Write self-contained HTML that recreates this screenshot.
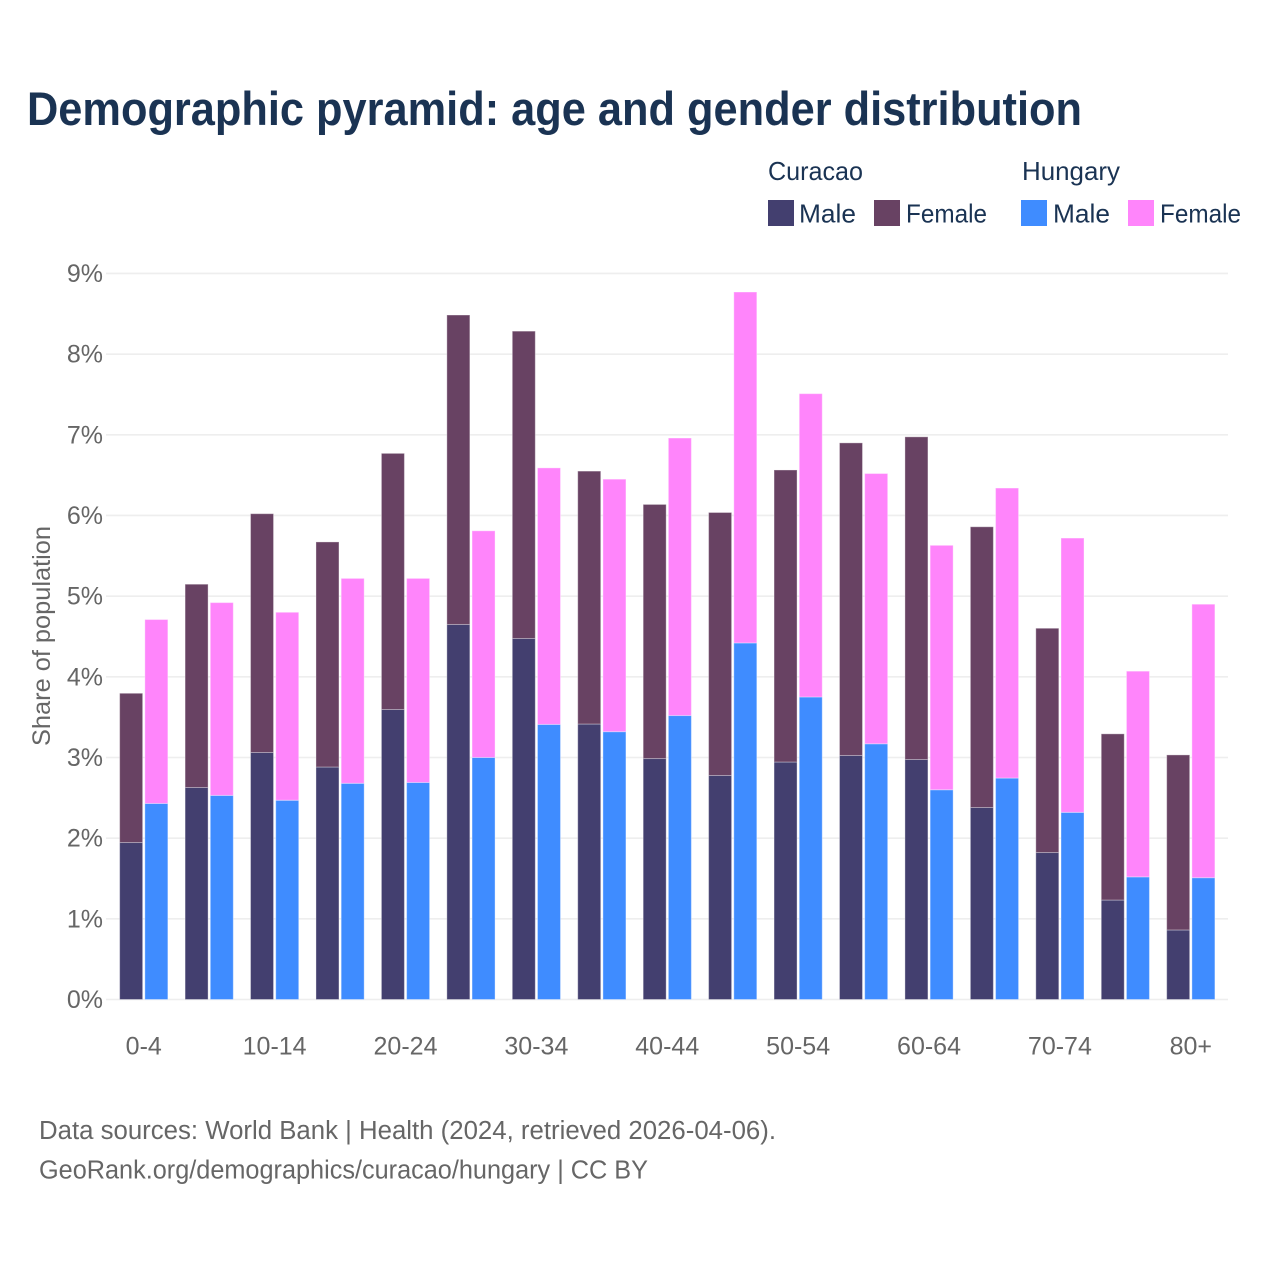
<!DOCTYPE html>
<html lang="en">
<head>
<meta charset="utf-8">
<title>Demographic pyramid: age and gender distribution</title>
<style>
html,body{margin:0;padding:0;background:#fff;}
svg{display:block;font-family:"Liberation Sans",sans-serif;}
</style>
</head>
<body>
<svg id="chart" width="1280" height="1280" viewBox="0 0 1280 1280" xmlns="http://www.w3.org/2000/svg">
  <rect x="0" y="0" width="1280" height="1280" fill="#ffffff"/>
  <text x="27" y="125" font-size="47" font-weight="700" fill="#1a3353" textLength="1055" lengthAdjust="spacingAndGlyphs">Demographic pyramid: age and gender distribution</text>

  <g font-size="26" fill="#1a3353">
    <text x="768" y="180" textLength="95" lengthAdjust="spacingAndGlyphs">Curacao</text>
    <text x="1022" y="180" textLength="98" lengthAdjust="spacingAndGlyphs">Hungary</text>
    <g>
      <rect x="768" y="200" width="26" height="26" fill="#433f6f"/>
      <text x="799" y="222.5" textLength="57" lengthAdjust="spacingAndGlyphs">Male</text>
    </g>
    <g>
      <rect x="874" y="200" width="26" height="26" fill="#684263"/>
      <text x="906" y="222.5" textLength="81" lengthAdjust="spacingAndGlyphs">Female</text>
    </g>
    <g>
      <rect x="1021" y="200" width="26" height="26" fill="#3f8cff"/>
      <text x="1053" y="222.5" textLength="57" lengthAdjust="spacingAndGlyphs">Male</text>
    </g>
    <g>
      <rect x="1128" y="200" width="26" height="26" fill="#ff85fb"/>
      <text x="1160" y="222.5" textLength="81" lengthAdjust="spacingAndGlyphs">Female</text>
    </g>
  </g>

  <g id="grid"></g>
  <g id="ylabels"></g>
  <g id="bars"></g>
  <g id="xlabels"></g>

  <text transform="translate(50,636) rotate(-90)" text-anchor="middle" font-size="25" fill="#666666" textLength="220" lengthAdjust="spacingAndGlyphs">Share of population</text>

  <text x="39" y="1139" font-size="25.5" fill="#666666" textLength="737" lengthAdjust="spacingAndGlyphs">Data sources: World Bank | Health (2024, retrieved 2026-04-06).</text>
  <text x="39" y="1178.5" font-size="25.5" fill="#666666" textLength="609" lengthAdjust="spacingAndGlyphs">GeoRank.org/demographics/curacao/hungary | CC BY</text>
</svg>
<script>
const categories = ['0-4','5-9','10-14','15-19','20-24','25-29','30-34','35-39','40-44','45-49','50-54','55-59','60-64','65-69','70-74','75-79','80+'];
const shownCategories = ['0-4','10-14','20-24','30-34','40-44','50-54','60-64','70-74','80+'];
const yTicks = [0,1,2,3,4,5,6,7,8,9];
const curacaoMale = [1.946,2.628,3.062,2.882,3.595,4.649,4.475,3.415,2.987,2.777,2.944,3.025,2.975,2.38,1.822,1.233,0.862];
const curacaoFemale = [1.85,2.52,2.96,2.79,3.175,3.836,3.81,3.135,3.15,3.26,3.62,3.875,4.0,3.48,2.78,2.06,2.17];
const hungaryMale = [2.43,2.53,2.47,2.68,2.69,3.00,3.41,3.32,3.52,4.42,3.75,3.17,2.60,2.745,2.32,1.52,1.51];
const hungaryFemale = [2.28,2.39,2.33,2.54,2.53,2.81,3.18,3.13,3.44,4.35,3.76,3.35,3.03,3.595,3.40,2.55,3.39];

const SVG_NS = 'http://www.w3.org/2000/svg';
const Y_ZERO = 999.5, Y_PER_UNIT = 80.67;
const X_START = 111.03, X_STEP = 65.44, BAR_W = 23, BAR_GAP = 2.2;
const GRID_LEFT = 106, GRID_RIGHT = 1228;

function yScale(v) { return Y_ZERO - v * Y_PER_UNIT; }
function xCenter(i) { return X_START + X_STEP * (i + 0.5); }

const grid = document.getElementById('grid');
const ylabels = document.getElementById('ylabels');
const barsG = document.getElementById('bars');
const xlabels = document.getElementById('xlabels');

yTicks.forEach(function (t) {
  const line = document.createElementNS(SVG_NS, 'line');
  
  
  line.setAttribute('x1', GRID_LEFT);
  line.setAttribute('x2', GRID_RIGHT);
  line.setAttribute('y1', yScale(t));
  line.setAttribute('y2', yScale(t));
  line.setAttribute('stroke', '#eeeeee');
  line.setAttribute('stroke-width', '1.6');
  grid.appendChild(line);

  const label = document.createElementNS(SVG_NS, 'text');
  
  
  label.setAttribute('x', 103);
  label.setAttribute('y', yScale(t) + 8.5);
  label.setAttribute('text-anchor', 'end');
  label.setAttribute('font-size', '25');
  label.setAttribute('fill', '#666666');
  label.textContent = t + '%';
  ylabels.appendChild(label);
});

function drawBar(name, x, base, value, fill) {
  const rect = document.createElementNS(SVG_NS, 'rect');
  
  
  rect.setAttribute('x', x);
  rect.setAttribute('y', yScale(base + value));
  rect.setAttribute('width', BAR_W);
  rect.setAttribute('height', value * Y_PER_UNIT);
  rect.setAttribute('fill', fill);
  rect.setAttribute('stroke', '#ffffff');
  rect.setAttribute('stroke-opacity', '0.35');
  rect.setAttribute('stroke-width', '1');
  barsG.appendChild(rect);
}

categories.forEach(function (cat, i) {
  const c = xCenter(i);
  const xa = c - BAR_GAP / 2 - BAR_W;
  const xb = c + BAR_GAP / 2;
  drawBar('bar-curacao-male-' + cat, xa, 0, curacaoMale[i], '#433f6f');
  drawBar('bar-curacao-female-' + cat, xa, curacaoMale[i], curacaoFemale[i], '#684263');
  drawBar('bar-hungary-male-' + cat, xb, 0, hungaryMale[i], '#3f8cff');
  drawBar('bar-hungary-female-' + cat, xb, hungaryMale[i], hungaryFemale[i], '#ff85fb');

  if (shownCategories.indexOf(cat) !== -1) {
    const label = document.createElementNS(SVG_NS, 'text');
    
    
    label.setAttribute('x', c);
    label.setAttribute('y', 1054.5);
    label.setAttribute('text-anchor', 'middle');
    label.setAttribute('font-size', '25');
    label.setAttribute('fill', '#666666');
    label.textContent = cat;
    xlabels.appendChild(label);
  }
});
</script>
</body>
</html>
